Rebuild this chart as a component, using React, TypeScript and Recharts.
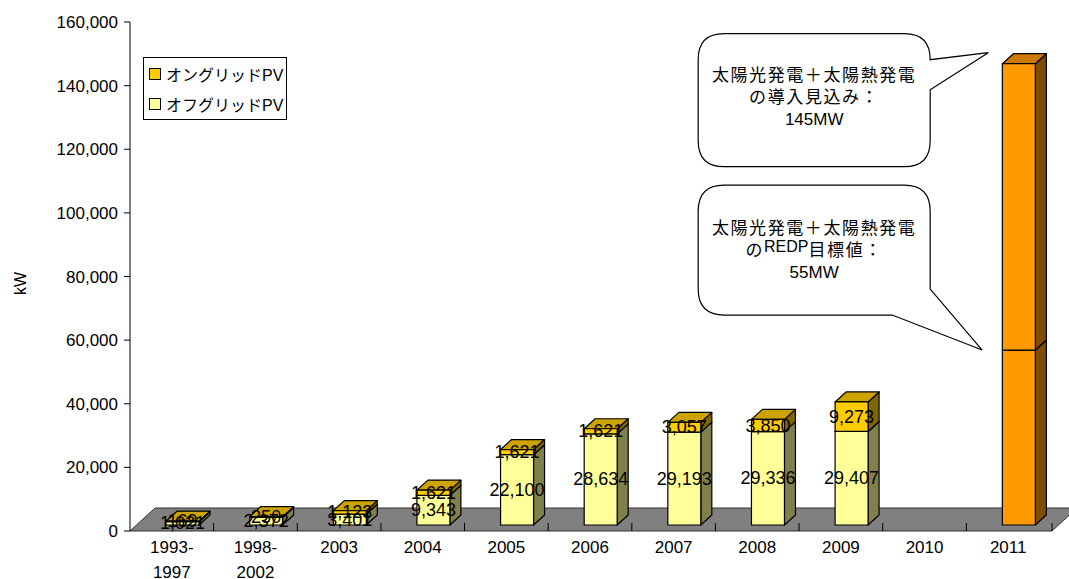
import {
  BarChart,
  Bar,
  XAxis,
  YAxis,
  Legend,
  LabelList,
  ReferenceArea,
  ReferenceDot,
} from "recharts";

const categories = [
  "1993-1997",
  "1998-2002",
  "2003",
  "2004",
  "2005",
  "2006",
  "2007",
  "2008",
  "2009",
  "2010",
  "2011",
];
const offGridPV = [1021, 2372, 3401, 9343, 22100, 28634, 29193, 29336, 29407, null, null];
const onGridPV = [169, 250, 1123, 1621, 1621, 1621, 3057, 3850, 9273, null, null];
const redpTarget = [null, null, null, null, null, null, null, null, null, null, 55000];
const outlookExtra = [null, null, null, null, null, null, null, null, null, null, 90000];
const yTicks = [0, 20000, 40000, 60000, 80000, 100000, 120000, 140000, 160000];

const onGridName = "オングリッドPV";
const offGridName = "オフグリッドPV";
const outlookLines = ["太陽光発電＋太陽熱発電", "の導入見込み：", "145MW"];
const targetLines = ["太陽光発電＋太陽熱発電", "のREDP目標値：", "55MW"];
const outlookTotal = 145000;
const targetTotal = 55000;

const data = categories.map((category, i) => ({
  category,
  offGrid: offGridPV[i],
  onGrid: onGridPV[i],
  target: redpTarget[i],
  outlook: outlookExtra[i],
}));

const FONT = "'Liberation Sans', Arial, 'Noto Sans CJK JP', sans-serif";
const SHIFT_X = 11;
const SHIFT_Y = -6;
const DEPTH_X = 11;
const DEPTH_Y = 10;

function shade(hex: string, f: number) {
  const n = parseInt(hex.slice(1), 16);
  const r = Math.round(((n >> 16) & 255) * f);
  const g = Math.round(((n >> 8) & 255) * f);
  const b = Math.round((n & 255) * f);
  return `rgb(${r},${g},${b})`;
}

// 3D box for a stacked segment
const makeBox = (key: string, color: string) => (props: any) => {
  const { x, y, width, height, payload } = props;
  if (!payload || payload[key] == null || x == null) return <g />;
  const X = x + SHIFT_X;
  const Y = y + SHIFT_Y;
  const w = width;
  const h = Math.max(height, 0);
  const side = `${X + w},${Y} ${X + w + DEPTH_X},${Y - DEPTH_Y} ${X + w + DEPTH_X},${Y + h - DEPTH_Y} ${X + w},${Y + h}`;
  const top = `${X},${Y} ${X + w},${Y} ${X + w + DEPTH_X},${Y - DEPTH_Y} ${X + DEPTH_X},${Y - DEPTH_Y}`;
  return (
    <g stroke="#000" strokeWidth={1.2} strokeLinejoin="round">
      <polygon points={side} fill={shade(color, 0.5)} />
      <polygon points={top} fill={shade(color, 0.8)} />
      <rect x={X} y={Y} width={w} height={h} fill={color} />
    </g>
  );
};

const makeLabel = (values: (number | null)[]) => (props: any) => {
  const vb = props.viewBox ?? props;
  const v = values[props.index];
  if (v == null || vb == null) return null;
  return (
    <text
      x={vb.x + SHIFT_X + vb.width / 2}
      y={vb.y + SHIFT_Y + vb.height / 2}
      textAnchor="middle"
      dominantBaseline="central"
      fontSize={18}
      fill="#000"
      fontFamily={FONT}
    >
      {v.toLocaleString("en-US")}
    </text>
  );
};

// gray 3D floor under the bars
const Floor = (props: any) => {
  const { x, y, width, height } = props;
  const bottom = y + height;
  const n = categories.length;
  const pts = `${x},${bottom} ${x + width + 2},${bottom} ${x + width + 27},${bottom - 23} ${x + 25},${bottom - 23}`;
  return (
    <g>
      <polygon points={pts} fill="#808080" stroke="#333" strokeWidth={1} />
      {categories.slice(1).map((_, i) => {
        const tx = x + ((i + 1) * width) / n;
        return <line key={i} x1={tx} x2={tx} y1={bottom - 8} y2={bottom} stroke="#000" />;
      })}
      <line x1={x + width + 2} x2={x + width + 2} y1={bottom - 8} y2={bottom} stroke="#000" />
    </g>
  );
};

function CalloutText({ cx, cy, lines }: { cx: number; cy: number; lines: string[] }) {
  return (
    <text textAnchor="middle" fontSize={17} fill="#000" fontFamily={FONT}>
      {lines.map((line, i) => {
        const parts = line.split("REDP");
        return (
          <tspan key={i} x={cx} y={cy + i * 22} letterSpacing={i < 2 ? 1.6 : 0}>
            {parts.length > 1 ? (
              <>
                {parts[0]}
                <tspan fontSize={16} dy={-4} letterSpacing={0}>REDP</tspan>
                <tspan dy={4}>{parts[1]}</tspan>
              </>
            ) : (
              line
            )}
          </tspan>
        );
      })}
    </text>
  );
}

const OutlookBubble = (props: any) => {
  const { cx, cy } = props;
  const L = cx - 310, R = cx - 78, T = cy - 36, B = cy + 97, r = 26;
  const tipX = cx - 20, tipY = cy - 17;
  const d = `M${L + r},${T} H${R - r} Q${R},${T} ${R},${T + r} L${tipX},${tipY} L${R},${cy + 20} V${B - r} Q${R},${B} ${R - r},${B} H${L + r} Q${L},${B} ${L},${B - r} V${T + r} Q${L},${T} ${L + r},${T} Z`;
  return (
    <g>
      <path d={d} fill="#fff" stroke="#000" strokeWidth={1.2} />
      <CalloutText cx={(L + R) / 2} cy={cy + 11} lines={outlookLines} />
    </g>
  );
};

const TargetBubble = (props: any) => {
  const { cx, cy } = props;
  const L = cx - 310, R = cx - 78, T = cy - 171, B = cy - 41, r = 26;
  const tipX = cx - 26, tipY = cy - 6;
  const d = `M${L + r},${T} H${R - r} Q${R},${T} ${R},${T + r} V${B - r} L${tipX},${tipY} L${R - 38},${B} H${L + r} Q${L},${B} ${L},${B - r} V${T + r} Q${L},${T} ${L + r},${T} Z`;
  return (
    <g>
      <path d={d} fill="#fff" stroke="#000" strokeWidth={1.2} />
      <CalloutText cx={(L + R) / 2} cy={cy - 122} lines={targetLines} />
    </g>
  );
};

const XTick = (props: any) => {
  const { x, y, payload } = props;
  const label: string = payload.value;
  const idx = label.indexOf("-");
  const lines = idx >= 0 ? [label.slice(0, idx + 1), label.slice(idx + 1)] : [label];
  return (
    <text textAnchor="middle" fontSize={17} fill="#000" fontFamily={FONT}>
      {lines.map((l, i) => (
        <tspan key={i} x={x} y={y + 22 + i * 25}>
          {l}
        </tspan>
      ))}
    </text>
  );
};

const LegendBox = () => {
  const items = [
    { name: onGridName, color: "#FFCC00" },
    { name: offGridName, color: "#FFFF99" },
  ];
  return (
    <div
      style={{
        border: "1px solid #000",
        background: "#fff",
        width: 142,
        height: 61,
        boxSizing: "content-box",
        fontFamily: FONT,
        fontSize: 16,
        color: "#000",
      }}
    >
      {items.map((it, i) => (
        <div
          key={i}
          style={{ display: "flex", alignItems: "center", height: 30, paddingLeft: 5, marginTop: i === 0 ? 1 : 0 }}
        >
          <span
            style={{
              display: "inline-block",
              width: 10,
              height: 10,
              border: "1px solid #000",
              background: it.color,
              marginRight: 5,
            }}
          />
          <span>{it.name}</span>
        </div>
      ))}
    </div>
  );
};

const YLabel = (p: any) => {
  const vb = p.viewBox;
  const lx = vb.x - 20;
  const ly = vb.y + vb.height / 2 + 7;
  return (
    <text
      x={lx}
      y={ly}
      transform={`rotate(-90, ${lx}, ${ly})`}
      textAnchor="middle"
      dominantBaseline="central"
      fontSize={16}
      fill="#000"
      fontFamily={FONT}
    >
      kW
    </text>
  );
};

export default function App() {
  return (
    <div
      style={{
        position: "absolute",
        left: 0,
        top: 0,
        width: 1069,
        height: 579,
        background: "#fff",
        fontFamily: FONT,
      }}
    >
      <BarChart
        width={1069}
        height={579}
        data={data}
        margin={{ top: 22, right: 19, bottom: 0, left: 40 }}
        barSize={33}
      >
        <XAxis
          dataKey="category"
          height={48}
          axisLine={false}
          tickLine={false}
          tickSize={0}
          tickMargin={0}
          interval={0}
          tick={<XTick />}
        />
        <YAxis
          width={90}
          domain={[0, 160000]}
          ticks={yTicks}
          interval={0}
          tickFormatter={(v: number) => v.toLocaleString("en-US")}
          tick={{ fill: "#000", fontSize: 17 }}
          tickMargin={6}
          axisLine={{ stroke: "#000" }}
          tickLine={{ stroke: "#000" }}
          label={{ content: YLabel }}
        />
        <ReferenceArea
          x1={categories[0]}
          x2={categories[categories.length - 1]}
          y1={0}
          y2={160000}
          shape={<Floor />}
        />
        <Legend
          layout="vertical"
          align="center"
          verticalAlign="middle"
          wrapperStyle={{ left: 143, top: 57, width: "auto", height: "auto" }}
          content={<LegendBox />}
        />
        <Bar
          dataKey="offGrid"
          name={offGridName}
          stackId="a"
          fill="#FFFF99"
          shape={makeBox("offGrid", "#FFFF99")}
          isAnimationActive={false}
        >
          <LabelList content={makeLabel(offGridPV)} />
        </Bar>
        <Bar
          dataKey="onGrid"
          name={onGridName}
          stackId="a"
          fill="#FFCC00"
          shape={makeBox("onGrid", "#FFCC00")}
          isAnimationActive={false}
        >
          <LabelList content={makeLabel(onGridPV)} />
        </Bar>
        <Bar
          dataKey="target"
          stackId="a"
          fill="#FF9900"
          legendType="none"
          shape={makeBox("target", "#FF9900")}
          isAnimationActive={false}
        />
        <Bar
          dataKey="outlook"
          stackId="a"
          fill="#FF9900"
          legendType="none"
          shape={makeBox("outlook", "#FF9900")}
          isAnimationActive={false}
        />
        <ReferenceDot x="2011" y={outlookTotal} r={0} shape={<OutlookBubble />} />
        <ReferenceDot x="2011" y={targetTotal} r={0} shape={<TargetBubble />} />
      </BarChart>
    </div>
  );
}
